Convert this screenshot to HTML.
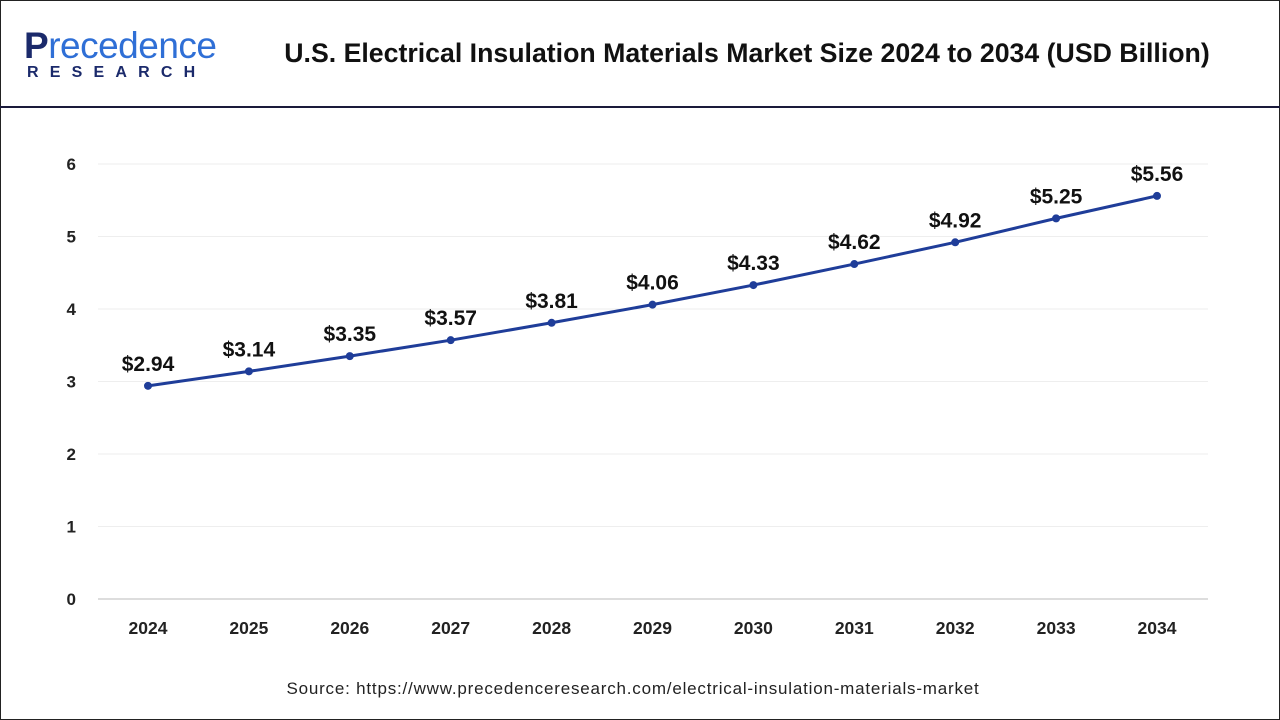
<!DOCTYPE html>
<html><head><meta charset="utf-8"><style>
body{margin:0;width:1280px;height:720px;overflow:hidden;background:#fff;font-family:"Liberation Sans",Arial,sans-serif}
#frame{position:absolute;left:0;top:0;width:1278px;height:718px;border:1px solid #222}
#hdrline{position:absolute;left:0;top:106px;width:1280px;height:2px;background:#1a1a3a}
#title{position:absolute;left:222px;top:38px;width:1050px;text-align:center;font-weight:bold;font-size:26.7px;color:#111}
#logo1{position:absolute;left:24px;top:25px;font-size:37px;color:#1b2a6b;font-weight:bold;letter-spacing:-0.5px}
#logo1 span{color:#2f6fd6;font-weight:normal}
#logo2{position:absolute;left:27px;top:64px;font-size:16px;font-weight:bold;color:#1b2a6b;letter-spacing:11.2px}
#src{position:absolute;left:0;width:1266px;top:679px;text-align:center;font-size:17px;letter-spacing:0.8px;color:#222}
</style></head><body>
<div id="frame"></div>
<div id="logo1">P<span>recedence</span></div>
<div id="logo2">RESEARCH</div>
<div id="title">U.S. Electrical Insulation Materials Market Size 2024 to 2034 (USD Billion)</div>
<div id="hdrline"></div>
<svg id="chart" width="1280" height="720" style="position:absolute;left:0;top:0"></svg>
<div id="src">Source: https://www.precedenceresearch.com/electrical-insulation-materials-market</div>
<script>
const years=["2024","2025","2026","2027","2028","2029","2030","2031","2032","2033","2034"];
const values=[2.94,3.14,3.35,3.57,3.81,4.06,4.33,4.62,4.92,5.25,5.56];
const labels=["$2.94","$3.14","$3.35","$3.57","$3.81","$4.06","$4.33","$4.62","$4.92","$5.25","$5.56"];
const yTicks=[0,1,2,3,4,5,6];
const NS="http://www.w3.org/2000/svg";
const svg=document.getElementById('chart');
const x=i=>148+i*(1157-148)/(years.length-1);
const y=v=>599-v*(599-164)/6;
function mk(t,a){const e=document.createElementNS(NS,t);for(const k in a)e.setAttribute(k,a[k]);svg.appendChild(e);return e;}
yTicks.forEach(t=>{
  const g=mk('line',{x1:98,x2:1208,y1:y(t),y2:y(t),stroke:t===0?'#bbb':'#eee','stroke-width':1});
  
  
  const l=mk('text',{x:76,y:y(t)+6,'text-anchor':'end','font-size':17,'font-weight':'bold',fill:'#222'});
  l.textContent=t;
  
  
});
years.forEach((yr,i)=>{
  const l=mk('text',{x:x(i),y:634,'text-anchor':'middle','font-size':17.5,'font-weight':'bold',fill:'#222'});
  l.textContent=yr;
  
  
});
const p=mk('polyline',{points:values.map((v,i)=>x(i)+','+y(v)).join(' '),fill:'none',stroke:'#1f3d99','stroke-width':3});


values.forEach((v,i)=>{
  const c=mk('circle',{cx:x(i),cy:y(v),r:4,fill:'#1f3d99'});
  
  
  const t=mk('text',{x:x(i),y:y(v)-15,'text-anchor':'middle','font-size':21,'font-weight':'bold',fill:'#111'});
  t.textContent=labels[i];
  
  
});
</script>
</body></html>
